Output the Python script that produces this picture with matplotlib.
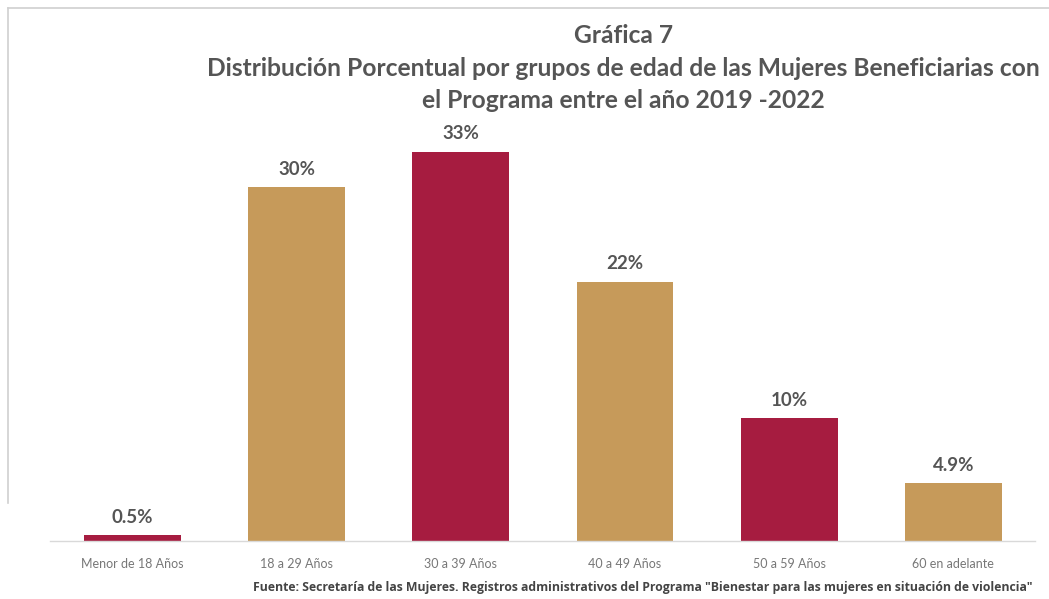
import matplotlib.pyplot as plt
from matplotlib.lines import Line2D

# --- DATA ---
grupos = ['Menor de 18 Años', '18 a 29 Años', '30 a 39 Años',
          '40 a 49 Años', '50 a 59 Años', '60 en adelante']
porcentajes = [0.5, 30.0, 33.0, 22.0, 10.4, 4.9]
etiquetas = ['0.5%', '30%', '33%', '22%', '10%', '4.9%']

CRIMSON = '#A61C40'
GOLD = '#C69A5A'
colores = [CRIMSON, GOLD, CRIMSON, GOLD, CRIMSON, GOLD]

plt.rcParams['font.family'] = ['Lato', 'DejaVu Sans']

fig = plt.figure(figsize=(10.49, 5.99), dpi=100)
ax = fig.add_axes([0.048, 0.0968, 0.939, 0.703])

x = range(len(grupos))
bars = ax.bar(x, porcentajes, width=0.59, color=colores, zorder=2)

for b, lab in zip(bars, etiquetas):
    ax.text(b.get_x() + b.get_width() / 2, b.get_height() + 0.8, lab,
            ha='center', va='bottom', fontsize=13.5, fontweight='bold',
            color='#555555')

ax.set_xlim(-0.5, len(grupos) - 0.5)
ax.set_ylim(0, 35.7)
ax.set_xticks(list(x))
ax.set_xticklabels(grupos, fontsize=9, color='#777777')
ax.tick_params(axis='x', length=0, pad=12)
ax.set_yticks([])
for side in ['top', 'right', 'left']:
    ax.spines[side].set_visible(False)
ax.spines['bottom'].set_color('#D9D9D9')
ax.spines['bottom'].set_linewidth(1)

# titles
title_kw = dict(ha='center', va='center', fontsize=17.7, fontweight='bold',
                color='#555555')
fig.text(0.594, 0.94, 'Gráfica 7', **title_kw)
fig.text(0.594, 0.886,
         'Distribución Porcentual por grupos de edad de las Mujeres Beneficiarias con',
         **title_kw)
fig.text(0.594, 0.832, 'el Programa entre el año 2019 -2022', **title_kw)

# source note
fig.text(0.984, 0.02,
         'Fuente: Secretaría de las Mujeres. Registros administrativos del Programa '
         '"Bienestar para las mujeres en situación de violencia"',
         ha='right', va='center', fontsize=8.85, fontweight='bold', color='#444444',
         family=['Open Sans', 'DejaVu Sans'])

# light frame on top and left
fig.add_artist(Line2D([0.008, 1.0], [0.986, 0.986], color='#D0D0D0', lw=1.2,
                      transform=fig.transFigure))
fig.add_artist(Line2D([0.008, 0.008], [0.986, 0.16], color='#D0D0D0', lw=1.2,
                      transform=fig.transFigure))

plt.savefig('out.png', dpi=100)
